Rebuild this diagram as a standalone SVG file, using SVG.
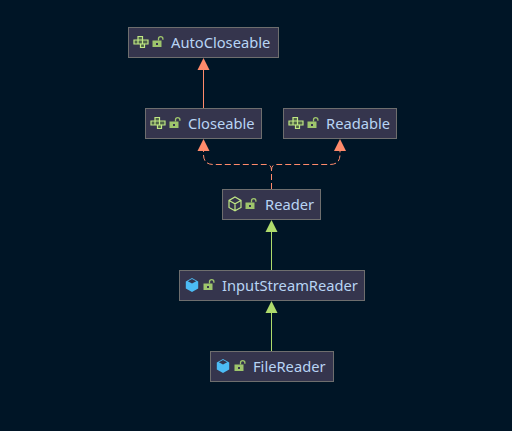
<svg xmlns="http://www.w3.org/2000/svg" width="512" height="431" viewBox="0 0 512 431">
<style>
.n{fill:#35354d;stroke:#6e6e6e;stroke-width:1}
.t{font-family:"Noto Sans","Open Sans",sans-serif;font-size:14.7px;fill:#b8d4f4}
.o{fill:#ff8a6b;stroke:none}
.g{fill:#aedb6c;stroke:none}
.lo{fill:none;stroke:#ff8a6b;stroke-width:1}
.lg{fill:none;stroke:#aedb6c;stroke-width:1}
.d{stroke-dasharray:6 3}
.ic{fill:#4f6448;stroke:#c0e884;stroke-width:1.2}
.ab{fill:none;stroke:#c0e884;stroke-width:1.2}
.cb{fill:#4cbcf5;stroke:none}
.lk{fill:#9ec56c;stroke:none}
.ls{fill:none;stroke:#9ec56c;stroke-width:1.3}
</style>
<defs>
<g id="iface"><path class="ic" d="M-7-2H-3V-5.500H1.500V-2H7V2H3.500V5.500H-0.500V2H-7Z"/><path class="ab" d="M-3-2V2M1.500-2V2M-3-2H1.500M-0.500 2H3.500"/></g>
<g id="abs"><path class="ab" d="M0-7l6 3.400v7l-6 3.400l-6-3.400v-7zM-6-3.600l6 3.400l6-3.400M0-.2v7"/></g>
<g id="cls"><path class="cb" d="M0-7l6.200 3.400v7.200l-6.200 3.400l-6.200-3.400v-7.200z"/><path d="M-4.200-3.700l4.200-2.200l4.200 2.200l-4.200 2.300z" fill="#35354d"/></g>
<g id="lock"><rect class="lk" x="-4.500" y="-1.500" width="9" height="6.500"/><path class="ls" d="M1.500-1.500v-1.700a2.200 2.200 0 0 1 4.400 0v1"/><rect x="-1" y="1" width="2" height="2" fill="#35354d"/></g>
</defs>
<rect width="512" height="431" fill="#001526"/>
<g id="connectors">
<path class="lo" d="M203.500 108V69"/><path class="o" d="M203.500 58l6 12h-12z"/>
<path class="lo d" d="M271.500 189V170q0-5.500-5-5.500H213.500q-10 0-10-10V149"/><path class="o" d="M203.500 139l6 12h-12z"/>
<path class="lo d" d="M271.500 189V170q0-5.500 5-5.500H330q10 0 10-10V149"/><path class="o" d="M340 139l6 12h-12z"/>
<path class="lg" d="M271.500 270V231"/><path class="g" d="M271.500 220l6 12h-12z"/>
<path class="lg" d="M271.500 351V312"/><path class="g" d="M271.500 301l6 12h-12z"/>
</g>
<g id="AutoCloseable"><rect class="n" x="128.500" y="27.500" width="150" height="30"/><use href="#iface" x="141" y="42"/><use href="#lock" x="157" y="42"/><text class="t" x="171" y="48">AutoCloseable</text></g>
<g id="Closeable"><rect class="n" x="145.500" y="108.500" width="116" height="30"/><use href="#iface" x="158" y="123"/><use href="#lock" x="174" y="123"/><text class="t" x="188" y="129">Closeable</text></g>
<g id="Readable"><rect class="n" x="283.500" y="108.500" width="113" height="30"/><use href="#iface" x="296" y="123"/><use href="#lock" x="312" y="123"/><text class="t" x="326" y="129">Readable</text></g>
<g id="Reader"><rect class="n" x="222.500" y="189.500" width="98" height="30"/><use href="#abs" x="235" y="204"/><use href="#lock" x="250" y="204"/><text class="t" x="265" y="210">Reader</text></g>
<g id="InputStreamReader"><rect class="n" x="179.500" y="270.500" width="185" height="30"/><use href="#cls" x="192" y="285"/><use href="#lock" x="208" y="285"/><text class="t" x="222" y="291">InputStreamReader</text></g>
<g id="FileReader"><rect class="n" x="210.500" y="351.500" width="123" height="30"/><use href="#cls" x="223" y="366"/><use href="#lock" x="239" y="366"/><text class="t" x="253" y="372">FileReader</text></g>
</svg>
